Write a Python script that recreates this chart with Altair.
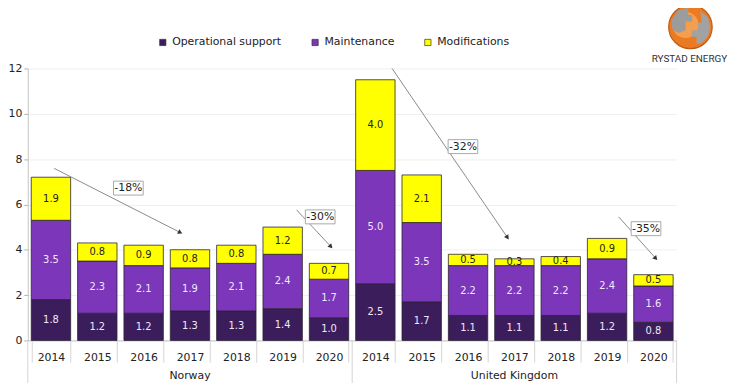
import math
import altair as alt
import pandas as pd

# ---------------- data ----------------
countries = ["Norway"] * 7 + ["United Kingdom"] * 7
years = ["2014", "2015", "2016", "2017", "2018", "2019", "2020"] * 2
operational = [1.8, 1.2, 1.2, 1.3, 1.3, 1.4, 1.0, 2.5, 1.7, 1.1, 1.1, 1.1, 1.2, 0.8]
maintenance = [3.5, 2.3, 2.1, 1.9, 2.1, 2.4, 1.7, 5.0, 3.5, 2.2, 2.2, 2.2, 2.4, 1.6]
modifications = [1.9, 0.8, 0.9, 0.8, 0.8, 1.2, 0.7, 4.0, 2.1, 0.5, 0.3, 0.4, 0.9, 0.5]
series = ["Operational support", "Maintenance", "Modifications"]
colors = ["#3c1d5c", "#7b36b9", "#ffff00"]

groups = ["Norway", "United Kingdom"]
group_mid_year = "2017"
group_bounds = [0, 7, 14]          # category boundaries (in bar-slot units)

# change annotations (x in bar-slot units 0..14, y in value units)
arrow_x0 = [0.57, 5.80, 7.86, 12.75]
arrow_y0 = [7.59, 5.76, 12.0, 5.45]
arrow_x1 = [3.29, 6.54, 10.35, 13.55]
arrow_y1 = [4.76, 4.14, 4.54, 3.62]
pct_labels = ["-18%", "-30%", "-32%", "-35%"]
pct_x = [2.17, 6.31, 9.39, 13.34]
pct_y = [6.72, 5.45, 8.55, 4.93]

# ---------------- layout ----------------
W, H = 656, 275
FONT = "DejaVu Sans"
NSLOT = 14
YMAX = 12

rows = []
for i, (c, y) in enumerate(zip(countries, years)):
    for j, (s, vals) in enumerate(zip(series, [operational, maintenance, modifications])):
        rows.append({"key": f"{c}|{y}", "series": s, "value": vals[i], "ord": j})
df = pd.DataFrame(rows)

xband = alt.Scale(paddingInner=0.15, paddingOuter=0.075)
yscale = alt.Scale(domain=[0, YMAX], nice=False, zero=True)

base = alt.Chart(df)

bars = base.mark_bar(stroke="#2b2233", strokeWidth=0.8).encode(
    x=alt.X(
        "key:N",
        title=None,
        scale=xband,
        axis=alt.Axis(
            labelExpr="split(datum.label, '|')[1]",
            tickBand="extent",
            tickSize=22,
            tickColor="#d4d4d4",
            domainColor="#c4c4c4",
            labelPadding=-11,
            labelAngle=0,
            labelFontSize=11,
            labelColor="#222222",
            labelFont=FONT,
            grid=False,
        ),
    ),
    y=alt.Y(
        "value:Q",
        stack="zero",
        title=None,
        scale=yscale,
        axis=alt.Axis(
            values=[0, 2, 4, 6, 8, 10, 12],
            tickSize=4,
            labelPadding=2,
            labelFontSize=11,
            labelColor="#222222",
            labelFont=FONT,
            domainColor="#c4c4c4",
            tickColor="#b0b0b0",
            gridColor="#efefef",
            grid=True,
        ),
    ),
    color=alt.Color(
        "series:N",
        scale=alt.Scale(domain=series, range=colors),
        legend=alt.Legend(
            title=None,
            orient="none",
            direction="horizontal",
            legendX=131,
            legendY=-32,
            symbolType="square",
            symbolSize=40,
            symbolStrokeColor="#333333",
            symbolStrokeWidth=0.7,
            labelFontSize=11,
            labelFont=FONT,
            labelColor="#222222",
            labelOffset=4,
            columnPadding=28,
            padding=0,
        ),
    ),
    order=alt.Order("ord:Q"),
)

seg_labels = (
    base.transform_stack(
        stack="value",
        groupby=["key"],
        as_=["v0", "v1"],
        sort=[alt.SortField("ord", order="ascending")],
    )
    .transform_calculate(mid="(datum.v0 + datum.v1) / 2")
    .mark_text(fontSize=10, font=FONT, baseline="middle")
    .encode(
        x=alt.X("key:N", title=None),
        y=alt.Y("mid:Q", title=None),
        text=alt.Text("value:Q", format=".1f"),
        color=alt.condition(
            "datum.series == 'Modifications'", alt.value("#222222"), alt.value("#f1e8fb")
        ),
    )
)

gdf = pd.DataFrame({"group": groups, "key": [f"{g}|{group_mid_year}" for g in groups]})
group_text = alt.Chart(gdf).mark_text(
    fontSize=11, font=FONT, color="#222222", baseline="middle"
).encode(
    x=alt.X("key:N", title=None),
    y=alt.value(H + 36),
    text="group:N",
)

main = alt.layer(bars, seg_labels, group_text)

# ---------------- annotations (slot-unit x scale) ----------------
xslot = alt.Scale(domain=[0, NSLOT], nice=False, zero=False)

sep_df = pd.DataFrame({"pos": group_bounds})
seps = alt.Chart(sep_df).mark_rule(color="#d4d4d4", strokeWidth=1).encode(
    x=alt.X("pos:Q", scale=xslot, axis=None),
    y=alt.value(H),
    y2=alt.value(H + 48),
)

px_x = W / NSLOT
px_y = H / YMAX
angles = [
    math.degrees(math.atan2((a - b) * px_y, (d - c) * px_x))
    for a, b, c, d in zip(arrow_y0, arrow_y1, arrow_x0, arrow_x1)
]
adf = pd.DataFrame(
    {"x0": arrow_x0, "y0": arrow_y0, "x1": arrow_x1, "y1": arrow_y1, "ang": angles}
)
arrow_lines = alt.Chart(adf).mark_rule(color="#8a8a8a", strokeWidth=1).encode(
    x=alt.X("x0:Q", scale=xslot, axis=None),
    y=alt.Y("y0:Q", title=None),
    x2="x1:Q",
    y2="y1:Q",
)
arrow_heads = alt.Chart(adf).mark_point(
    shape="triangle-right", filled=True, color="#333333", size=28, opacity=1
).encode(
    x=alt.X("x1:Q", scale=xslot, axis=None),
    y=alt.Y("y1:Q", title=None),
    angle=alt.Angle("ang:Q", scale=None),
)

pdf = pd.DataFrame({"label": pct_labels, "px": pct_x, "py": pct_y})
boxes = alt.Chart(pdf).mark_point(
    shape="M-1,-0.47H1V0.47H-1Z",
    filled=True,
    fill="white",
    stroke="#a8a8a8",
    strokeWidth=1,
    size=900,
    opacity=1,
).encode(
    x=alt.X("px:Q", scale=xslot, axis=None),
    y=alt.Y("py:Q", title=None),
)
pct_text = alt.Chart(pdf).mark_text(
    fontSize=11, font=FONT, color="#222222", baseline="middle"
).encode(
    x=alt.X("px:Q", scale=xslot, axis=None),
    y=alt.Y("py:Q", title=None),
    text="label:N",
)

# ---------------- logo ----------------
LX, LY, LS = 670, -42, 1936
logo_df = pd.DataFrame({"t": ["RYSTAD ENERGY"]})


def logo_shape(shape, color, size=LS, filled=True, **kw):
    return alt.Chart(logo_df).mark_point(
        shape=shape, filled=filled, color=color, size=size, opacity=1, **kw
    ).encode(x=alt.value(LX), y=alt.value(LY))


logo_circle = logo_shape("circle", "#ec7a22")
logo_glow = alt.Chart(logo_df).mark_point(
    shape="circle", filled=True, color="#f7a85a", size=700, opacity=0.8
).encode(x=alt.value(LX - 5), y=alt.value(LY - 2))
logo_left = logo_shape(
    "M-0.55,-0.78L-0.1,-0.88L-0.1,-0.55L0.08,-0.55L0.08,-0.25L-0.22,-0.25L-0.22,0.15L-0.55,0.28L-0.82,0.12L-0.88,-0.3Z",
    "#9c9c9c",
)
logo_right = logo_shape(
    "M0.45,-0.72L0.8,-0.45L0.92,0.0L0.8,0.45L0.5,0.75L0.28,0.78L0.28,0.45L0.05,0.45L0.05,0.15L0.35,0.15L0.35,-0.2L0.52,-0.2Z",
    "#a2a2a2",
)
logo_ring = logo_shape("circle", "#c05c12", filled=False, strokeWidth=1.2)
logo_text = alt.Chart(logo_df).mark_text(
    font="Roboto",
    fontSize=10,
    color="#333333",
    baseline="middle",
).encode(x=alt.value(669), y=alt.value(-9), text="t:N")

ann = alt.layer(
    seps,
    arrow_lines,
    arrow_heads,
    boxes,
    pct_text,
    logo_circle,
    logo_glow,
    logo_left,
    logo_right,
    logo_ring,
    logo_text,
)

chart = (
    alt.layer(main, ann)
    .resolve_scale(x="independent")
    .properties(
        width=W,
        height=H,
        autosize=alt.AutoSizeParams(type="none"),
        padding={"left": 20, "top": 59, "right": 54, "bottom": 44},
    )
    .configure(font=FONT)
    .configure_view(stroke=None)
)

chart.save("out.html", embed_options={"renderer": "svg", "actions": False})
